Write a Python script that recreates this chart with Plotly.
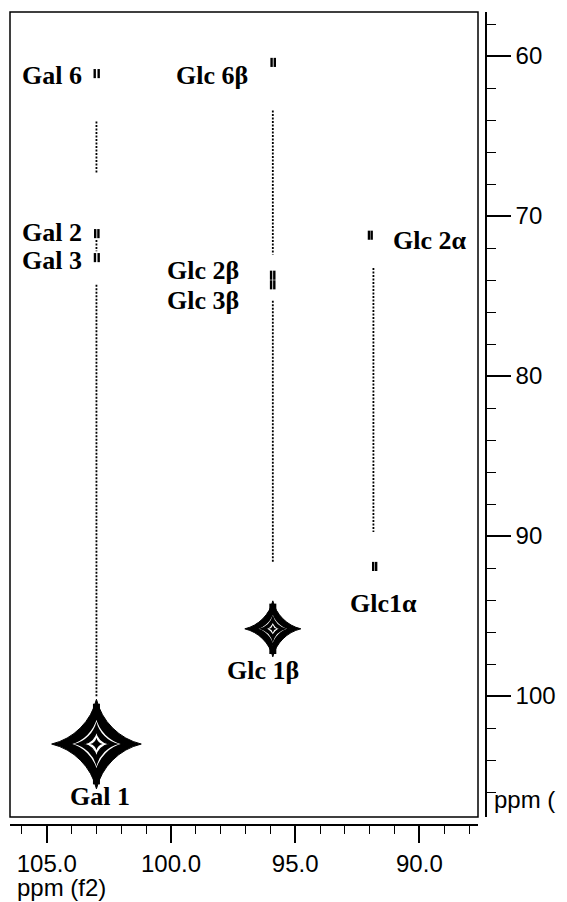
import plotly.graph_objects as go

# ---------------- data (ppm) ----------------
# major cross peaks (f2, f1) and approximate marker size
big_names = ["Gal 1", "Glc 1β"]
big_f2 = [103.0, 95.9]
big_f1 = [103.0, 95.8]
big_size = [64, 40]

# small (weak) correlation peaks, each drawn as a split pair
small_f2 = [103.07, 102.91, 103.05, 102.92, 103.06, 102.91,
            95.95, 95.82, 95.97, 95.84, 95.97, 95.84,
            92.03, 91.92, 91.86, 91.74]
small_f1 = [61.1, 61.1, 71.1, 71.1, 72.6, 72.6,
            60.4, 60.4, 73.7, 73.7, 74.3, 74.3,
            71.2, 71.2, 91.9, 91.9]

# dotted TOCSY traces: f2 position, f1 start, f1 end
trace_f2 = [103.0, 103.0, 103.0, 95.9, 95.9, 91.85]
trace_f1_start = [64.1, 71.5, 74.3, 63.4, 75.3, 73.25]
trace_f1_end = [67.3, 72.2, 100.1, 72.4, 91.7, 89.75]

# peak labels
label_text = ["Gal 6", "Gal 2", "Gal 3", "Glc 6β", "Glc 2β", "Glc 3β",
              "Glc 2α", "Glc1α", "Glc 1β", "Gal 1"]
label_f2 = [104.79, 104.79, 104.79, 98.35, 98.71, 98.71, 89.61, 91.43, 96.30, 102.86]
label_f1 = [61.2, 71.0, 72.75, 61.2, 73.4, 75.25, 71.5, 94.2, 98.4, 106.3]

# axes ticks
x_tick_vals = [105.0, 100.0, 95.0, 90.0]
x_tick_text = ["105.0", "100.0", "95.0", "90.0"]
y_tick_vals = [60, 70, 80, 90, 100]
y_tick_text = ["60", "70", "80", "90", "100"]

# ---------------- figure ----------------
fig = go.Figure()

# dotted traces
for xv, y0, y1 in zip(trace_f2, trace_f1_start, trace_f1_end):
    fig.add_trace(go.Scatter(x=[xv, xv], y=[y0, y1], mode="lines",
                             line=dict(color="black", width=1.8, dash="2px,1.5px"),
                             hoverinfo="skip", showlegend=False))

# small peaks
fig.add_trace(go.Scatter(x=small_f2, y=small_f1, mode="markers",
                         marker=dict(symbol="line-ns", size=6.5, opacity=1,
                                     line=dict(color="black", width=2.4)),
                         showlegend=False))

# big cross peaks: vertical streaks
fig.add_trace(go.Scatter(
    x=big_f2, y=big_f1, mode="markers",
    marker=dict(symbol="line-ns", size=[s * 0.9 for s in big_size], opacity=1,
                line=dict(color="black", width=7)),
    showlegend=False, hoverinfo="skip"))

# big cross peaks: layered contours (mostly black, light inner rings)
for frac, fill, lw in [(1.0, "black", 1), (0.6, "white", 1.6), (0.5, "black", 0),
                       (0.28, "white", 1.2), (0.14, "black", 0)]:
    fig.add_trace(go.Scatter(
        x=big_f2, y=big_f1, mode="markers",
        marker=dict(symbol="star-diamond", size=[s * frac for s in big_size],
                    color=fill, opacity=1, line=dict(color="black", width=lw)),
        showlegend=False, hoverinfo="skip"))

for t, xv, yv in zip(label_text, label_f2, label_f1):
    fig.add_annotation(x=xv, y=yv, xref="x", yref="y", text="<b>" + t + "</b>",
                       showarrow=False, xanchor="center", yanchor="middle",
                       font=dict(family="Liberation Serif", size=26, color="black"))

# inner frame
fig.add_shape(type="rect", xref="x domain", yref="y domain", x0=0, x1=1, y0=0, y1=1,
              line=dict(color="black", width=1.5))

tick_font = dict(family="Liberation Sans", size=24, color="black")

fig.update_layout(
    width=567, height=902,
    margin=dict(l=10, r=81, t=12, b=77),
    paper_bgcolor="white", plot_bgcolor="white",
    showlegend=False,
    xaxis=dict(domain=[0, 0.9832], range=[106.48, 87.64], anchor="free", position=0,
               showgrid=False, zeroline=False, showline=True, linecolor="black", linewidth=1.5,
               ticks="outside", ticklen=17, tickwidth=1.5, tickcolor="black",
               tickmode="array", tickvals=x_tick_vals, ticktext=x_tick_text,
               tickfont=tick_font,
               minor=dict(dtick=1, tick0=0, ticklen=8, tickwidth=1.2, tickcolor="black",
                          ticks="outside", showgrid=False)),
    yaxis=dict(domain=[0.00984, 1], range=[107.56, 57.25], anchor="free", position=1,
               side="right",
               showgrid=False, zeroline=False, showline=True, linecolor="black", linewidth=1.5,
               ticks="outside", ticklen=24, tickwidth=1.5, tickcolor="black",
               tickmode="array", tickvals=y_tick_vals, ticktext=y_tick_text,
               tickfont=tick_font,
               minor=dict(dtick=2, tick0=0, ticklen=9, tickwidth=1.2, tickcolor="black",
                          ticks="outside", showgrid=False)),
)

fig.add_annotation(xref="paper", yref="paper", x=0.0105, y=-0.0763, text="ppm (f2)",
                   showarrow=False, xanchor="left", yanchor="middle", font=tick_font)
fig.add_annotation(xref="paper", yref="paper", x=1.0126, y=0.0308, text="ppm (",
                   showarrow=False, xanchor="left", yanchor="middle", font=tick_font)

fig.write_html("out.html")
